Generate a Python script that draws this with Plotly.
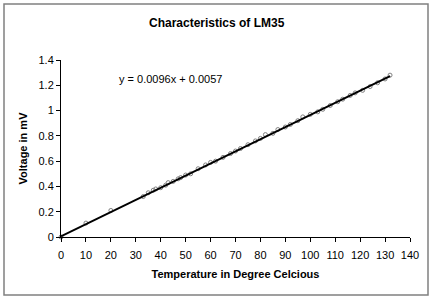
import plotly.graph_objects as go

temperature = [0, 10, 20, 33, 35, 37, 38, 40, 42, 43, 45, 47, 48, 50, 52, 55, 58, 60, 62, 65,
               68, 70, 72, 75, 78, 80, 82, 85, 87, 90, 92, 95, 97, 100, 103, 105, 108, 111,
               113, 116, 118, 121, 124, 127, 130, 132]
voltage = [0.00, 0.11, 0.21, 0.32, 0.35, 0.37, 0.38, 0.39, 0.41, 0.43, 0.44, 0.46, 0.47, 0.49,
           0.50, 0.54, 0.57, 0.59, 0.60, 0.63, 0.66, 0.68, 0.70, 0.73, 0.76, 0.78, 0.81, 0.82,
           0.85, 0.87, 0.89, 0.92, 0.95, 0.97, 0.99, 1.01, 1.04, 1.07, 1.09, 1.12, 1.14, 1.16,
           1.19, 1.22, 1.25, 1.28]
slope = 0.0096
intercept = 0.0057
equation = "y = 0.0096x + 0.0057"

fit_x = [min(temperature), max(temperature)]
fit_y = [slope * v + intercept for v in fit_x]

fig = go.Figure()
fig.add_trace(go.Scatter(x=temperature, y=voltage, mode="markers",
                         marker=dict(symbol="circle-open", size=4, color="#808080",
                                     line=dict(width=1, color="#808080")),
                         showlegend=False, cliponaxis=False))
fig.add_trace(go.Scatter(x=fit_x, y=fit_y, mode="lines",
                         line=dict(color="black", width=2), showlegend=False))

font = "Liberation Sans, Arial, sans-serif"
fig.update_layout(
    width=436, height=301,
    margin=dict(l=61, r=26, t=60, b=64, autoexpand=False),
    paper_bgcolor="white", plot_bgcolor="white",
    font=dict(family=font, size=11, color="black"),
    title=dict(text="<b>Characteristics of LM35</b>", x=0.497, xanchor="center",
               y=1 - 23 / 301, yanchor="middle", font=dict(size=12, color="black")),
    xaxis=dict(range=[0, 140], dtick=10, tick0=0, showgrid=False, zeroline=False,
               showline=True, linecolor="black", linewidth=1, ticks="outside",
               ticklen=4, tickcolor="black", tickfont=dict(size=11), automargin=False,
               ticklabelstandoff=4,
               title=dict(text="<b>Temperature in Degree Celcious</b>",
                          font=dict(size=11), standoff=10)),
    yaxis=dict(range=[0, 1.4], dtick=0.2, tick0=0, showgrid=False, zeroline=False,
               showline=True, linecolor="black", linewidth=1, ticks="outside",
               ticklen=4, tickcolor="black", tickfont=dict(size=11), automargin=False,
               title=dict(text="<b>Voltage in mV</b>", font=dict(size=11), standoff=8)),
    shapes=[dict(type="rect", xref="paper", yref="paper",
                 x0=-57 / 349, x1=1 + 18 / 349, y0=-58 / 177, y1=1 + 56 / 177,
                 line=dict(color="#808080", width=1.5), fillcolor="rgba(0,0,0,0)",
                 layer="above")],
    annotations=[dict(text=equation, x=176 / 349 * 140 - 48, y=1.25, xref="x", yref="y",
                      showarrow=False, xanchor="left", yanchor="middle",
                      font=dict(size=11, color="black"))],
)

fig.write_html("out.html", config={"displayModeBar": False},
               post_script="document.body.style.margin='0';")
